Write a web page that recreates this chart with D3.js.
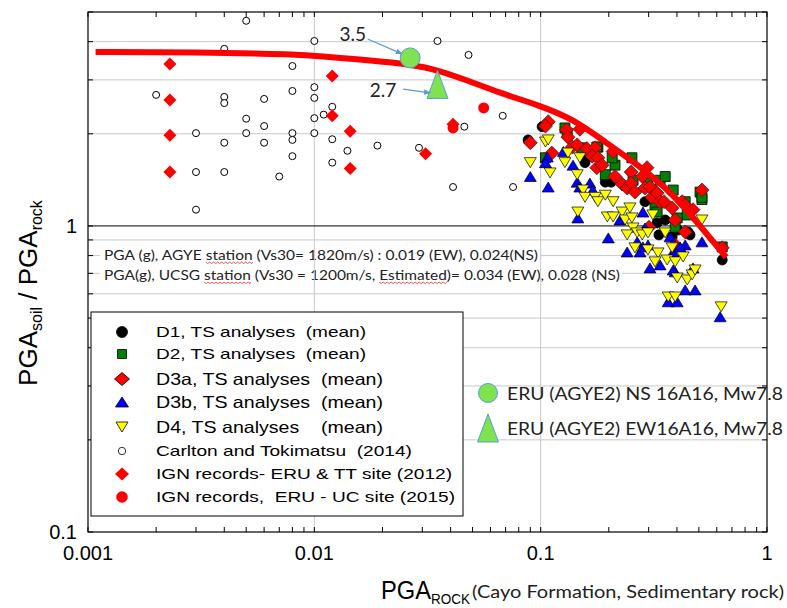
<!DOCTYPE html>
<html>
<head>
<meta charset="utf-8">
<script src="https://cdn.jsdelivr.net/npm/d3@7"></script>
<style>
  body { margin: 0; background: #fff; }
  svg { display: block; }
  text { font-family: "Liberation Sans", Arial, sans-serif; fill: #000; }
  .cal { font-family: Lato, "Open Sans", sans-serif; fill: #222; }
</style>
</head>
<body>
<div id="chart"></div>
<script>
// ---- data (x = PGA rock, y = PGA soil / PGA rock) ----
const xTickValues = [0.001, 0.01, 0.1, 1];
const xTickLabels = ["0.001", "0.01", "0.1", "1"];
const yTickValues = [0.1, 1];
const yTickLabels = ["0.1", "1"];
const xGridValues = [0.01, 0.1];
const yGridValues = [0.2, 0.3, 0.4, 0.5, 0.6, 0.7, 0.8, 0.9, 2, 3, 4];

const d1Points = [[0.088,1.91],[0.1015,2.11],[0.157,1.64],[0.157,1.61],[0.193,1.39],[0.205,1.39],[0.289,1.20],
  [0.327,1.023],[0.333,0.935],[0.405,0.97],[0.444,0.949],[0.457,0.935],[0.381,0.921],[0.634,0.774],
  [0.355,1.046],[0.448,0.956]];

const d2Points = [[0.105,1.67],[0.128,2.09],[0.152,1.80],[0.179,1.81],[0.193,1.47],[0.253,1.67],[0.213,1.58],
  [0.256,1.41],[0.298,1.38],[0.337,1.41],[0.355,1.45],[0.320,1.17],[0.385,1.31],[0.435,1.20],[0.516,1.22],
  [0.444,1.086],[0.401,1.062],[0.393,0.99],[0.634,0.854],[0.506,1.29],[0.327,1.11],[0.131,2.01],
  [0.177,1.81],[0.207,1.67],[0.516,1.24]];

const d3aPoints = [[0.108,2.19],[0.105,2.12],[0.090,1.87],[0.112,1.73],[0.130,2.06],[0.132,1.95],[0.149,2.07],
  [0.138,1.81],[0.145,1.84],[0.160,1.79],[0.174,1.80],[0.169,1.69],[0.179,1.67],[0.177,1.55],[0.187,1.58],
  [0.209,1.75],[0.213,1.45],[0.229,1.37],[0.241,1.33],[0.251,1.50],[0.251,1.38],[0.261,1.29],[0.281,1.45],
  [0.295,1.55],[0.289,1.33],[0.304,1.34],[0.310,1.24],[0.327,1.28],[0.337,1.20],[0.351,1.20],[0.381,1.145],
  [0.393,1.046],[0.422,1.20],[0.435,1.17],[0.471,1.13],[0.435,0.956],[0.393,0.867],[0.516,1.31],
  [0.634,0.848],[0.301,0.99]];

const d3bPoints = [[0.090,1.45],[0.108,1.34],[0.107,1.68],[0.105,1.61],[0.139,1.58],[0.126,1.75],[0.145,1.39],
  [0.149,1.34],[0.165,1.38],[0.170,1.31],[0.146,1.062],[0.199,0.914],[0.224,1.046],[0.241,0.822],
  [0.267,0.887],[0.275,0.822],[0.283,1.11],[0.289,0.985],[0.298,0.867],[0.304,0.729],[0.337,0.746],
  [0.373,0.921],[0.385,0.822],[0.393,0.708],[0.435,0.867],[0.435,0.618],[0.471,0.729],[0.481,0.618],
  [0.516,0.887],[0.366,0.565],[0.401,0.565],[0.621,0.505],[0.283,0.854],[0.385,0.718],[0.413,0.854]];

const d4Points = [[0.090,1.61],[0.105,1.88],[0.108,1.91],[0.110,1.49],[0.132,1.73],[0.128,1.61],[0.149,1.67],
  [0.145,1.47],[0.154,1.31],[0.157,1.24],[0.146,1.11],[0.174,1.24],[0.179,1.20],[0.193,1.26],[0.209,1.20],
  [0.197,1.07],[0.209,1.07],[0.229,1.11],[0.248,1.145],[0.236,1.046],[0.253,1.062],[0.256,0.985],
  [0.241,0.935],[0.267,0.949],[0.281,0.935],[0.298,0.949],[0.313,1.086],[0.261,0.848],[0.298,0.835],
  [0.330,0.816],[0.362,0.774],[0.320,0.763],[0.393,0.763],[0.426,0.792],[0.355,0.949],[0.381,0.848],
  [0.401,0.676],[0.444,0.666],[0.467,0.692],[0.481,0.718],[0.516,1.046],[0.366,0.586],[0.393,0.586],
  [0.627,0.544]];

const carltonPoints = [[0.005,4.68],[0.004,3.79],[0.008,3.33],[0.010,4.02],[0.002,2.68],[0.004,2.64],
  [0.004,2.52],[0.006,2.60],[0.008,2.76],[0.010,2.84],[0.010,2.62],[0.005,2.24],[0.006,2.12],[0.008,2.01],
  [0.008,1.91],[0.010,2.25],[0.010,2.01],[0.011,2.31],[0.003,2.01],[0.005,2.01],[0.004,1.87],[0.006,1.87],
  [0.008,1.69],[0.003,1.50],[0.004,1.50],[0.007,1.45],[0.003,1.13],[0.035,4.02],[0.048,3.62],[0.012,2.45],
  [0.012,1.92],[0.014,1.76],[0.012,1.61],[0.019,1.83],[0.029,1.80],[0.046,2.11],[0.068,2.29],
  [0.041,1.34],[0.0755,1.34]];

const ign2012Points = [[0.0023,3.38],[0.0023,2.58],[0.0023,1.98],[0.0023,1.50],[0.012,3.09],[0.012,2.29],
  [0.0144,2.04],[0.0144,1.54],[0.031,1.72],[0.041,2.15]];
const ign2015Points = [[0.041,2.09],[0.056,2.43]];

const eruNSPoint = [0.0265, 3.54];
const eruEWPoint = [0.035, 2.9];

// upper envelope (thick red line)
const envelopeX = [0.00108, 0.003, 0.0087, 0.01, 0.024, 0.0335, 0.048, 0.066, 0.098, 0.137, 0.193, 0.27, 0.381, 0.49, 0.66];
const envelopeY = [3.70, 3.70, 3.63, 3.60, 3.41, 3.27, 2.98, 2.72, 2.48, 2.25, 1.88, 1.58, 1.28, 1.03, 0.79];

const noteLines = [
  "PGA (g), AGYE station (Vs30= 1820m/s) : 0.019 (EW), 0.024(NS)",
  "PGA(g), UCSG station (Vs30 = 1200m/s, Estimated)= 0.034 (EW), 0.028 (NS)"
];
const noteSpellMarks = [["station"], ["station", "Estimated"]];
const legendLabels = [
  "D1, TS analyses  (mean)",
  "D2, TS analyses  (mean)",
  "D3a, TS analyses  (mean)",
  "D3b, TS analyses  (mean)",
  "D4, TS analyses    (mean)",
  "Carlton and Tokimatsu  (2014)",
  "IGN records- ERU & TT site (2012)",
  "IGN records,  ERU - UC site (2015)"
];
const eruLabels = ["ERU (AGYE2) NS 16A16, Mw7.8", "ERU (AGYE2) EW16A16, Mw7.8"];

// ---- marker shapes ----
const shapes = {
  circle: r => d3.arc()({innerRadius: 0, outerRadius: r, startAngle: 0, endAngle: 2 * Math.PI}),
  square: s => `M${-s/2},${-s/2}h${s}v${s}h${-s}Z`,
  diamond: (w, h) => `M0,${-h/2}L${w/2},0L0,${h/2}L${-w/2},0Z`,
  triUp: (w, h) => `M0,${-h/2}L${w/2},${h/2}L${-w/2},${h/2}Z`,
  triDown: (w, h) => `M0,${h/2}L${w/2},${-h/2}L${-w/2},${-h/2}Z`
};

const series = [
  { pts: d1Points,     path: shapes.circle(5),        fill: '#000',    stroke: '#000', sw: 0.8 },
  { pts: d2Points,     path: shapes.square(10),       fill: '#008000', stroke: '#000', sw: 0.8 },
  { pts: d3aPoints,    path: shapes.diamond(14, 14),  fill: '#ff0000', stroke: '#222', sw: 0.7 },
  { pts: d3bPoints,    path: shapes.triUp(12, 10),    fill: '#0000ff', stroke: '#000', sw: 0.7 },
  { pts: d4Points,     path: shapes.triDown(12, 10),  fill: '#ffff00', stroke: '#000', sw: 0.7 },
  { pts: carltonPoints, path: shapes.circle(3.5),     fill: '#fff',    stroke: '#000', sw: 1 },
  { pts: ign2012Points, path: shapes.diamond(13, 13), fill: '#ff0000', stroke: 'none', sw: 0 },
  { pts: ign2015Points, path: shapes.circle(5.5),     fill: '#ff0000', stroke: 'none', sw: 0 }
];

const legendSymbols = [
  { path: shapes.circle(5.5),       fill: '#000',    stroke: '#000' },
  { path: shapes.square(9),         fill: '#008000', stroke: '#000' },
  { path: shapes.diamond(15, 13),   fill: '#ff0000', stroke: '#000' },
  { path: shapes.triUp(13, 10),     fill: '#0000ff', stroke: '#000' },
  { path: shapes.triDown(12, 10),   fill: '#ffff00', stroke: '#000' },
  { path: shapes.circle(3.7),       fill: '#fff',    stroke: '#000' },
  { path: shapes.diamond(14, 13),   fill: '#ff0000', stroke: 'none' },
  { path: shapes.circle(5.8),       fill: '#ff0000', stroke: 'none' }
];

// small red wavy underline, like a spell checker's
function squiggle(x0, x1, yy) {
  let d = `M${x0},${yy}`;
  for (let xx = x0, k = 0; xx < x1; xx += 2, k++) {
    d += `L${Math.min(xx + 2, x1)},${yy + (k % 2 ? 0 : 1.6)}`;
  }
  return d;
}

function draw() {
  const width = 787, height = 608;
  const left = 88, right = 767, top = 12, bottom = 532;

  const svg = d3.select('#chart').append('svg')
    .attr('width', width).attr('height', height)
    .style('background', '#fff');

  const x = d3.scaleLog().domain([0.001, 1]).range([left, right]);
  const y = d3.scaleLog().domain([0.1, 5]).range([bottom, top]);

  svg.append('defs').append('marker')
    .attr('id', 'arrow').attr('viewBox', '0 0 10 8')
    .attr('refX', 9).attr('refY', 4)
    .attr('markerWidth', 7).attr('markerHeight', 6)
    .attr('markerUnits', 'userSpaceOnUse')
    .attr('orient', 'auto')
    .append('path').attr('d', 'M0,0L10,4L0,8Z').attr('fill', '#5b9bd5');

  // horizontal grid
  svg.append('g').selectAll('line').data(yGridValues).join('line')
    .attr('x1', left).attr('x2', right)
    .attr('y1', d => y(d)).attr('y2', d => y(d))
    .attr('stroke', '#c8c8c8').attr('stroke-width', 1);

  // note lines sit on a white strip that hides the horizontal grid
  const notes = svg.append('g');
  const noteWidths = [434, 516];
  noteLines.forEach((t, i) => {
    notes.append('rect')
      .attr('x', 100).attr('y', 246 + i * 20)
      .attr('width', noteWidths[i] + 6).attr('height', 18)
      .attr('fill', '#fff');
  });

  // vertical grid
  svg.append('g').selectAll('line').data(xGridValues).join('line')
    .attr('x1', d => x(d)).attr('x2', d => x(d))
    .attr('y1', top).attr('y2', bottom)
    .attr('stroke', '#c8c8c8').attr('stroke-width', 1);

  // y = 1 reference line
  svg.append('line')
    .attr('x1', left).attr('x2', right)
    .attr('y1', y(1)).attr('y2', y(1))
    .attr('stroke', '#000').attr('stroke-width', 1);

  noteLines.forEach((t, i) => {
    const txt = notes.append('text').attr('class', 'cal')
      .attr('x', 104).attr('y', 260 + i * 20)
      .attr('font-size', 13)
      .attr('textLength', noteWidths[i]).attr('lengthAdjust', 'spacingAndGlyphs')
      .style('white-space', 'pre')
      .text(t);
    const node = txt.node();
    noteSpellMarks[i].forEach(word => {
      const k = t.indexOf(word);
      const x0 = node.getStartPositionOfChar(k).x;
      const x1 = node.getEndPositionOfChar(k + word.length - 1).x;
      notes.append('path')
        .attr('d', squiggle(x0, x1, 262 + i * 20))
        .attr('fill', 'none').attr('stroke', '#e03030').attr('stroke-width', 0.8);
    });
  });

  // inward ticks on all four sides
  const xt = x.ticks(), yt = y.ticks();
  const ticks = svg.append('g').attr('stroke', '#000').attr('stroke-width', 1);
  xt.forEach(v => {
    ticks.append('line').attr('x1', x(v)).attr('x2', x(v)).attr('y1', bottom).attr('y2', bottom - 5);
    ticks.append('line').attr('x1', x(v)).attr('x2', x(v)).attr('y1', top).attr('y2', top + 5);
  });
  yt.forEach(v => {
    ticks.append('line').attr('y1', y(v)).attr('y2', y(v)).attr('x1', left).attr('x2', left + 5);
    ticks.append('line').attr('y1', y(v)).attr('y2', y(v)).attr('x1', right).attr('x2', right - 5);
  });

  // tick labels
  svg.append('g').selectAll('text').data(xTickValues).join('text')
    .attr('x', d => x(d)).attr('y', bottom + 28)
    .attr('text-anchor', 'middle').attr('font-size', 20)
    .text((d, i) => xTickLabels[i]);
  svg.append('g').selectAll('text').data(yTickValues).join('text')
    .attr('x', left - 11).attr('y', d => y(d) + 7)
    .attr('text-anchor', 'end').attr('font-size', 20)
    .text((d, i) => yTickLabels[i]);

  // legend box (covers grid)
  const lg = svg.append('g');
  lg.append('rect')
    .attr('x', 91).attr('y', 312).attr('width', 372).attr('height', 204)
    .attr('fill', '#fff').attr('stroke', '#000').attr('stroke-width', 1);
  const rowY = [332, 354, 379, 402, 427, 451, 474, 497];
  const rowSize = [15, 15, 16.5, 16.5, 16.5, 15, 15, 15];
  const rowLen = [210, 210, 227, 227, 227, 256, 296, 299];
  legendLabels.forEach((t, i) => {
    lg.append('path')
      .attr('transform', `translate(122,${rowY[i]})`)
      .attr('d', legendSymbols[i].path)
      .attr('fill', legendSymbols[i].fill)
      .attr('stroke', legendSymbols[i].stroke).attr('stroke-width', 0.8);
    lg.append('text')
      .attr('x', 156).attr('y', rowY[i] + rowSize[i] * 0.36)
      .attr('font-size', rowSize[i])
      .attr('textLength', rowLen[i]).attr('lengthAdjust', 'spacingAndGlyphs')
      .style('white-space', 'pre')
      .text(t);
  });

  // data series
  series.forEach(s => {
    svg.append('g').selectAll('path').data(s.pts).join('path')
      .attr('transform', d => `translate(${x(d[0])},${y(d[1])})`)
      .attr('d', s.path)
      .attr('fill', s.fill)
      .attr('stroke', s.stroke).attr('stroke-width', s.sw);
  });

  // envelope curve
  const envelope = envelopeX.map((v, i) => [v, envelopeY[i]]);
  svg.append('path')
    .datum(envelope)
    .attr('d', d3.line().x(d => x(d[0])).y(d => y(d[1])).curve(d3.curveBasis))
    .attr('fill', 'none').attr('stroke', '#ff0000')
    .attr('stroke-width', 6).attr('stroke-linecap', 'butt');

  // ERU records
  const eruFill = '#7fe24f', eruStroke = '#5b9bd5';
  svg.append('path')
    .attr('transform', `translate(${x(eruNSPoint[0])},${y(eruNSPoint[1])})`)
    .attr('d', shapes.circle(10)).attr('fill', eruFill).attr('stroke', eruStroke).attr('stroke-width', 1);
  svg.append('path')
    .attr('transform', `translate(${x(eruEWPoint[0])},${y(eruEWPoint[1])})`)
    .attr('d', shapes.triUp(21, 28)).attr('fill', eruFill).attr('stroke', eruStroke).attr('stroke-width', 1);

  // annotations with arrows
  const notesArrows = [
    { label: '3.5', at: [0.0148, 4.25], from: [0.0172, 4.08], to: [0.0244, 3.65] },
    { label: '2.7', at: [0.0201, 2.78], from: [0.0247, 2.80], to: [0.0325, 2.72] }
  ];
  notesArrows.forEach(a => {
    svg.append('text').attr('class', 'cal')
      .attr('x', x(a.at[0])).attr('y', y(a.at[1]) + 7)
      .attr('text-anchor', 'middle').attr('font-size', 19)
      .text(a.label);
    svg.append('line')
      .attr('x1', x(a.from[0])).attr('y1', y(a.from[1]))
      .attr('x2', x(a.to[0])).attr('y2', y(a.to[1]))
      .attr('stroke', '#5b9bd5').attr('stroke-width', 1.2)
      .attr('marker-end', 'url(#arrow)');
  });

  // ERU legend (no box)
  const el = svg.append('g');
  el.append('path').attr('transform', 'translate(488,393)')
    .attr('d', shapes.circle(9.5)).attr('fill', eruFill).attr('stroke', eruStroke).attr('stroke-width', 1);
  el.append('path').attr('transform', 'translate(488,428)')
    .attr('d', shapes.triUp(21, 28)).attr('fill', eruFill).attr('stroke', eruStroke).attr('stroke-width', 1);
  eruLabels.forEach((t, i) => {
    el.append('text').attr('class', 'cal')
      .attr('x', 507).attr('y', 400 + i * 35)
      .attr('font-size', 18)
      .attr('textLength', 276).attr('lengthAdjust', 'spacingAndGlyphs')
      .text(t);
  });

  // frame
  svg.append('rect')
    .attr('x', left).attr('y', top)
    .attr('width', right - left).attr('height', bottom - top)
    .attr('fill', 'none').attr('stroke', '#000').attr('stroke-width', 1.2);

  // y axis title
  const yt2 = svg.append('text')
    .attr('transform', 'rotate(-90)')
    .attr('x', -293).attr('y', 37)
    .attr('text-anchor', 'middle').attr('font-size', 26);
  yt2.append('tspan').text('PGA');
  yt2.append('tspan').attr('font-size', 16).attr('dy', 5).text('soil');
  yt2.append('tspan').attr('dy', -5).text(' / PGA');
  yt2.append('tspan').attr('font-size', 16).attr('dy', 5).text('rock');

  // x axis title
  svg.append('text')
    .attr('x', 381).attr('y', 599).attr('font-size', 25)
    .attr('textLength', 50).attr('lengthAdjust', 'spacingAndGlyphs')
    .text('PGA');
  svg.append('text')
    .attr('x', 431).attr('y', 604).attr('font-size', 14)
    .attr('textLength', 39).attr('lengthAdjust', 'spacingAndGlyphs')
    .text('ROCK');
  svg.append('text').attr('class', 'cal')
    .attr('x', 472).attr('y', 598).attr('font-size', 18)
    .attr('textLength', 312).attr('lengthAdjust', 'spacingAndGlyphs')
    .text('(Cayo Formation, Sedimentary rock)');
}

draw();
</script>
</body>
</html>
